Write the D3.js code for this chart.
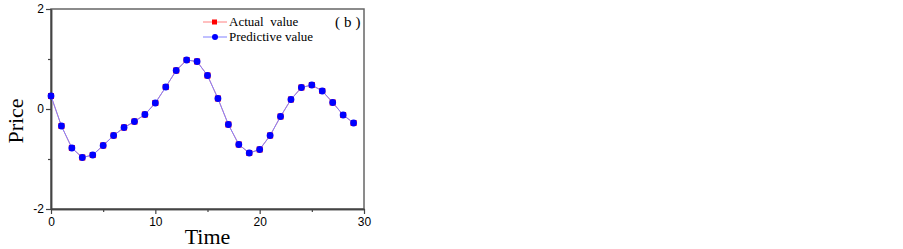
<!DOCTYPE html>
<html>
<head>
<meta charset="utf-8">
<script src="https://cdn.jsdelivr.net/npm/d3@7"></script>
<style>
  body { margin: 0; background: #fff; }
</style>
</head>
<body>
<div id="chart"></div>
<script>
// Data
const times = d3.range(0, 30);
const actualValues = [0.26, -0.34, -0.78, -0.97, -0.92, -0.73, -0.53, -0.37, -0.25, -0.11,
  0.12, 0.44, 0.77, 0.98, 0.95, 0.67, 0.21, -0.31, -0.71, -0.88,
  -0.81, -0.53, -0.15, 0.19, 0.43, 0.48, 0.36, 0.13, -0.12, -0.28];
const predictiveValues = [0.26, -0.34, -0.78, -0.97, -0.92, -0.73, -0.53, -0.37, -0.25, -0.11,
  0.12, 0.44, 0.77, 0.98, 0.95, 0.67, 0.21, -0.31, -0.71, -0.88,
  -0.81, -0.53, -0.15, 0.19, 0.43, 0.48, 0.36, 0.13, -0.12, -0.28];
const xTicks = [0, 10, 20, 30];
const xMinorTicks = [5, 15, 25];
const yTicks = [-2, 0, 2];
const yMinorTicks = [-1, 1];
const legendLabels = ["Actual  value", "Predictive value"];

const width = 903, height = 249;
const margin = { top: 9, right: 539, bottom: 40, left: 51 };

const svg = d3.select("#chart").append("svg")
  .attr("width", width)
  .attr("height", height);

const x = d3.scaleLinear().domain([0, 30]).range([margin.left, width - margin.right]);
const y = d3.scaleLinear().domain([-2, 2]).range([height - margin.bottom, margin.top]);

const axisColor = "#444";

// Frame
svg.append("rect")
  .attr("x", x(0)).attr("y", y(2))
  .attr("width", x(30) - x(0)).attr("height", y(-2) - y(2))
  .attr("fill", "none").attr("stroke", "#666").attr("stroke-width", 1.5);

// Axes
svg.append("g")
  .attr("transform", `translate(0,${y(-2)})`)
  .call(d3.axisBottom(x).tickValues(xTicks).tickSize(5).tickSizeOuter(0).tickPadding(3).tickFormat(d => String(d)));
svg.append("g")
  .attr("transform", `translate(0,${y(-2)})`)
  .call(d3.axisBottom(x).tickValues(xMinorTicks).tickSize(3).tickSizeOuter(0).tickFormat(""));
svg.append("g")
  .attr("transform", `translate(${x(0)},0)`)
  .call(d3.axisLeft(y).tickValues(yTicks).tickSize(5).tickSizeOuter(0).tickPadding(2).tickFormat(d => String(d)));
svg.append("g")
  .attr("transform", `translate(${x(0)},0)`)
  .call(d3.axisLeft(y).tickValues(yMinorTicks).tickSize(3).tickSizeOuter(0).tickFormat(""));

svg.selectAll(".domain").attr("stroke", axisColor).attr("stroke-width", 1.5);
svg.selectAll(".tick line").attr("stroke", axisColor).attr("stroke-width", 1.2);
svg.selectAll(".tick text")
  .attr("font-family", "Liberation Sans, Arial, sans-serif")
  .attr("font-size", 12).attr("fill", "#000");

// Axis titles
svg.append("text")
  .attr("x", (x(0) + x(30)) / 2).attr("y", 244)
  .attr("text-anchor", "middle")
  .attr("font-family", "Liberation Serif, Times New Roman, serif")
  .attr("font-size", 22)
  .text("Time");
svg.append("text")
  .attr("transform", `translate(23,${(y(2) + y(-2)) / 2 + 12}) rotate(-90)`)
  .attr("text-anchor", "middle")
  .attr("font-family", "Liberation Serif, Times New Roman, serif")
  .attr("font-size", 22)
  .text("Price");

// Lines
const line = d3.line().x((d, i) => x(times[i])).y(d => y(d));

svg.append("path").datum(actualValues)
  .attr("fill", "none").attr("stroke", "#ff8080").attr("stroke-width", 1).attr("d", line);
svg.selectAll(".actual").data(actualValues).join("rect")
  .attr("class", "actual")
  .attr("x", (d, i) => x(times[i]) - 3).attr("y", d => y(d) - 3)
  .attr("width", 6).attr("height", 6).attr("fill", "#ff0000");

svg.append("path").datum(predictiveValues)
  .attr("fill", "none").attr("stroke", "#8080ff").attr("stroke-width", 1).attr("d", line);
svg.selectAll(".pred").data(predictiveValues).join("circle")
  .attr("class", "pred")
  .attr("cx", (d, i) => x(times[i])).attr("cy", d => y(d))
  .attr("r", 3.4).attr("fill", "#0000ff");

// Legend
const legend = svg.append("g").attr("font-family", "Liberation Serif, Times New Roman, serif");
const legendColors = [["#ff8080", "#ff0000"], ["#8080ff", "#0000ff"]];
legendLabels.forEach((label, i) => {
  const ly = 22 + i * 15;
  legend.append("line")
    .attr("x1", 203).attr("x2", 227).attr("y1", ly).attr("y2", ly)
    .attr("stroke", legendColors[i][0]).attr("stroke-width", 1);
  if (i === 0) {
    legend.append("rect").attr("x", 212).attr("y", ly - 2.5).attr("width", 5).attr("height", 5)
      .attr("fill", legendColors[i][1]);
  } else {
    legend.append("circle").attr("cx", 215).attr("cy", ly).attr("r", 3)
      .attr("fill", legendColors[i][1]);
  }
  legend.append("text")
    .attr("x", 229).attr("y", ly + 4)
    .attr("font-size", 13)
    .style("white-space", "pre")
    .text(label);
});

svg.append("text")
  .attr("x", 335).attr("y", 27)
  .attr("font-family", "Liberation Serif, Times New Roman, serif")
  .attr("font-size", 15)
  .attr("letter-spacing", 4)
  .text("(b)");
</script>
</body>
</html>
